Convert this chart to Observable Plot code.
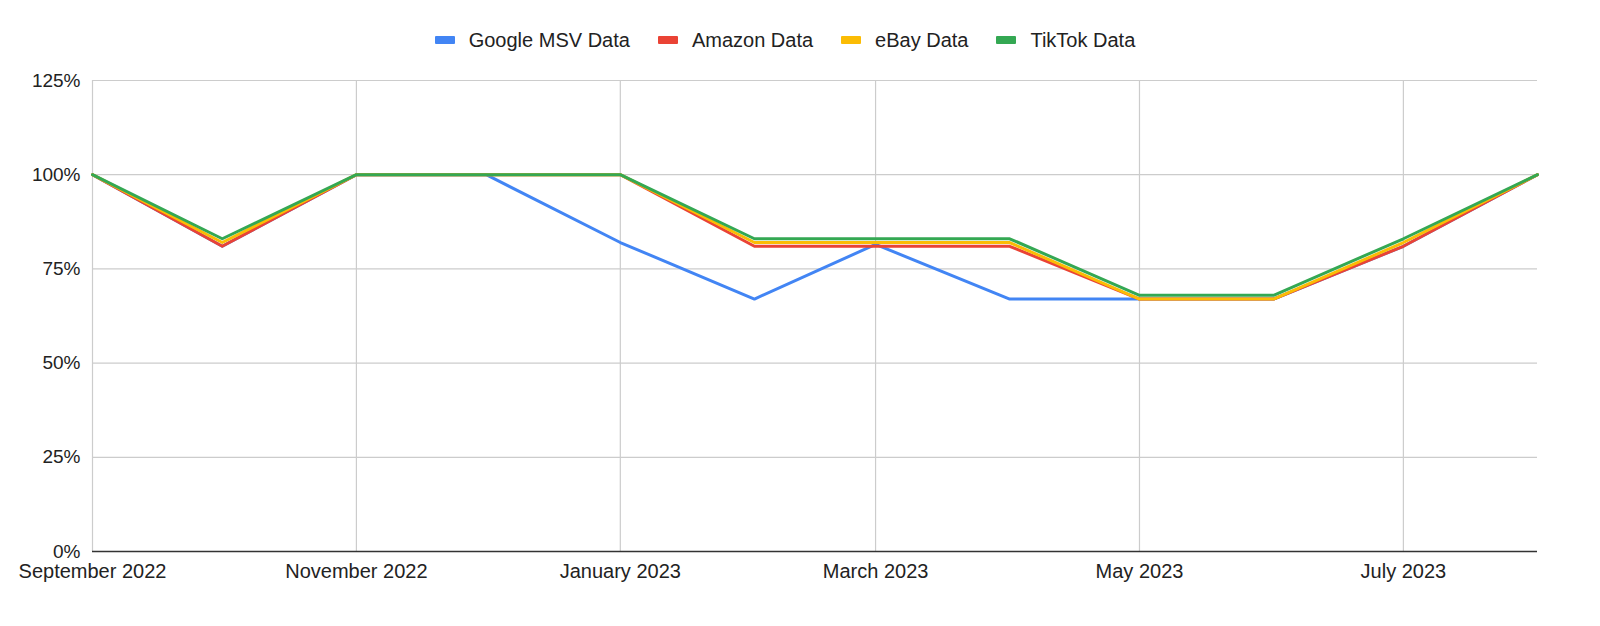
<!DOCTYPE html>
<html>
<head>
<meta charset="utf-8">
<script src="https://cdn.jsdelivr.net/npm/d3@7"></script>
<script src="https://cdn.jsdelivr.net/npm/@observablehq/plot@0.6"></script>
<style>
  html, body { margin: 0; padding: 0; background: #fff; overflow: hidden; }
  body { width: 1600px; height: 626px; font-family: "Liberation Sans", Arial, sans-serif; }
  #legend { height: 60px; display: flex; justify-content: center; align-items: center; padding-top: 20px; padding-right: 30px; box-sizing: border-box; font-size: 20px; color: #222; }
  .item { display: flex; align-items: center; margin: 0 14px; }
  .sw { width: 20px; height: 8px; margin-right: 14px; border-radius: 1px; }
  #chart svg { display: block; }
</style>
</head>
<body>
<div id="legend"></div>
<div id="chart"></div>
<script>
const months = ["2022-09","2022-10","2022-11","2022-12","2023-01","2023-02","2023-03","2023-04","2023-05","2023-06","2023-07","2023-08"];
const seriesNames = ["Google MSV Data", "Amazon Data", "eBay Data", "TikTok Data"];
const seriesColors = ["#4285F4", "#EA4335", "#FBBC04", "#34A853"];
const google = [100, 81, 100, 100, 82, 67, 81.5, 67, 67, 67, 81, 100];
const amazon = [100, 81, 100, 100, 100, 81, 81, 81, 67, 67, 81, 100];
const ebay   = [100, 82, 100, 100, 100, 82, 82, 82, 67, 67, 82, 100];
const tiktok = [100, 83, 100, 100, 100, 83, 83, 83, 68, 68, 83, 100];
const xTicks = ["2022-09","2022-11","2023-01","2023-03","2023-05","2023-07"];
const yTicks = [0, 25, 50, 75, 100, 125];

const allSeries = [google, amazon, ebay, tiktok];
const data = [];
allSeries.forEach((vals, i) => {
  vals.forEach((v, j) => data.push({series: seriesNames[i], date: new Date(months[j] + "-01T00:00:00Z"), value: v / 100}));
});

const legend = document.getElementById("legend");
seriesNames.forEach((n, i) => {
  const it = document.createElement("div"); it.className = "item";
  const sw = document.createElement("div"); sw.className = "sw"; sw.style.background = seriesColors[i];
  const t = document.createElement("span"); t.textContent = n;
  it.appendChild(sw); it.appendChild(t); legend.appendChild(it);
});

const tickDates = xTicks.map(d => new Date(d + "-01T00:00:00Z"));
const fmt = d3.utcFormat("%B %Y");

const chart = Plot.plot({
  width: 1600,
  height: 566,
  marginTop: 20,
  marginBottom: 75,
  marginLeft: 92,
  marginRight: 63,
  style: { fontSize: "19px", fontFamily: "Liberation Sans, Arial, sans-serif", color: "#222", background: "#fff" },
  x: { type: "utc", domain: [new Date(months[0] + "-01T00:00:00Z"), new Date(months[months.length-1] + "-01T00:00:00Z")] },
  y: { domain: [0, 1.25] },
  color: { domain: seriesNames, range: seriesColors },
  marks: [
    Plot.gridY(yTicks.map(v => v / 100), { stroke: "#cccccc", strokeOpacity: 1, strokeWidth: 1.2 }),
    Plot.gridX(tickDates, { stroke: "#cccccc", strokeOpacity: 1, strokeWidth: 1.2 }),
    Plot.axisY(yTicks.map(v => v / 100), { tickSize: 0, tickPadding: 12, tickFormat: d3.format(".0%"), label: null, fill: "#222" }),
    Plot.axisX(tickDates, { tickSize: 0, tickPadding: 12, tickFormat: fmt, label: null, fill: "#222", fontSize: 20 }),
    Plot.line(data, { x: "date", y: "value", z: "series", stroke: "series", strokeWidth: 3, curve: "linear" }),
    Plot.ruleY([0], { stroke: "#333", strokeWidth: 1.5 })
  ]
});
document.getElementById("chart").appendChild(chart);
</script>
</body>
</html>
